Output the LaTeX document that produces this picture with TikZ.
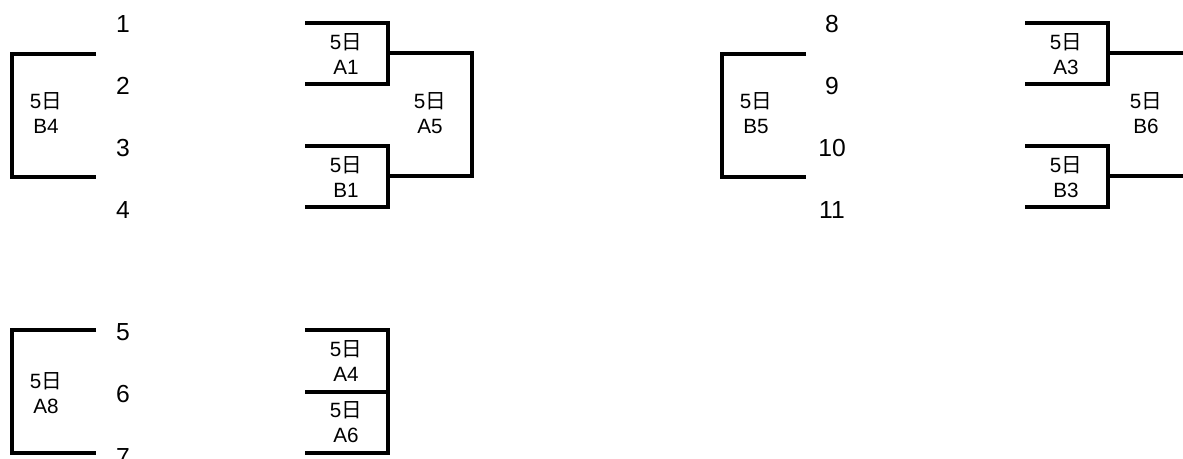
\documentclass[tikz,border=0pt]{standalone}
\usepackage{fontspec}
\setmainfont{Liberation Sans}
\newfontfamily\jpfont{Noto Sans CJK JP}
\usetikzlibrary{positioning}
\newcommand{\nichi}{5{\jpfont 日}}

\begin{document}
\begin{tikzpicture}[
  x=0.75pt, y=-0.75pt,
  every node/.style={inner sep=0pt},
  game/.style={font=\fontsize{15.5}{19}\selectfont, align=center},
  seed/.style={font=\fontsize{18.5}{20}\selectfont},
  line/.style={line width=2.4pt}
]
\useasboundingbox (0,0) rectangle (1183,459);

% left block, seeds 1-4
\draw[line] (96,54) -- (12,54) -- (12,177) -- (96,177);
\node[game] (b4) at (46,113) {\nichi\\B4};
\node[seed] (n1) at (123,24) {1};
\node[seed] (n2) at (123,86) {2};
\node[seed] (n3) at (123,148) {3};
\node[seed] (n4) at (123,210) {4};

\draw[line] (305,23) -- (388,23) -- (388,84) -- (305,84);
\node[game] (a1) at (346,54) {\nichi\\A1};
\draw[line] (305,146) -- (388,146) -- (388,207) -- (305,207);
\node[game] (b1) at (346,177) {\nichi\\B1};
\draw[line] (388,53) -- (472,53) -- (472,176) -- (388,176);
\node[game] (a5) at (430,113) {\nichi\\A5};

% right block, seeds 8-11
\draw[line] (806,54) -- (722,54) -- (722,177) -- (806,177);
\node[game] (b5) at (756,113) {\nichi\\B5};
\node[seed] (n8) at (832,24) {8};
\node[seed] (n9) at (832,86) {9};
\node[seed] (n10) at (832,148) {10};
\node[seed] (n11) at (832,210) {11};

\draw[line] (1025,23) -- (1108,23) -- (1108,84) -- (1025,84);
\node[game] (a3) at (1066,54) {\nichi\\A3};
\draw[line] (1025,146) -- (1108,146) -- (1108,207) -- (1025,207);
\node[game] (b3) at (1066,177) {\nichi\\B3};
\draw[line] (1108,53) -- (1190,53);
\draw[line] (1108,176) -- (1190,176);
\node[game] (b6) at (1146,113) {\nichi\\B6};

% bottom block, seeds 5-7
\draw[line] (96,330) -- (12,330) -- (12,453) -- (96,453);
\node[game] (a8) at (46,393) {\nichi\\A8};
\node[seed] (n5) at (123,332) {5};
\node[seed] (n6) at (123,394) {6};
\node[seed] (n7) at (123,457) {7};

\draw[line] (305,330) -- (388,330) -- (388,453) -- (305,453);
\draw[line] (305,392) -- (388,392);
\node[game] (a4) at (346,361) {\nichi\\A4};
\node[game] (a6) at (346,422) {\nichi\\A6};
\end{tikzpicture}
\end{document}
